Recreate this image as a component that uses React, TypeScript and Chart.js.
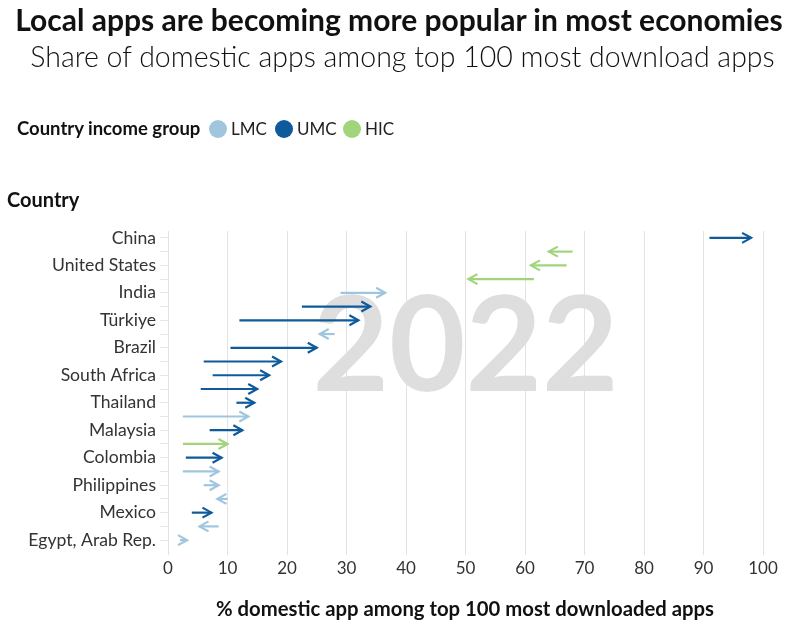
import React, { useEffect, useRef } from "react";
import { Chart, registerables } from "chart.js";

Chart.register(...registerables);

// ---- data ----
const countries = [
  "China", "", "United States", "", "India", "", "Türkiye", "", "Brazil", "",
  "South Africa", "", "Thailand", "", "Malaysia", "", "Colombia", "", "Philippines", "",
  "Mexico", "", "Egypt, Arab Rep.",
];
const startValues = [91, 68, 67, 61.5, 29, 22.5, 12, 28, 10.5, 6, 7.5, 5.5, 11.5, 2.5, 7, 2.5, 3, 2.5, 6, 10, 4, 8.5, 2];
const endValues = [98, 64, 61, 50.5, 36.5, 34, 32, 25.5, 25, 19, 17, 15, 14.5, 13.5, 12.5, 10, 9, 8.5, 8.5, 8.3, 7.3, 5.3, 3.2];
const incomeGroups = [
  "UMC", "HIC", "HIC", "HIC", "LMC", "UMC", "UMC", "LMC", "UMC", "UMC",
  "UMC", "UMC", "UMC", "LMC", "UMC", "HIC", "UMC", "LMC", "LMC", "LMC",
  "UMC", "LMC", "LMC",
];
const groupNames = ["LMC", "UMC", "HIC"];
const groupColors = ["#9fc6de", "#0e5a9a", "#a2d47c"];
const xMin = 0;
const xMax = 100;
const xStep = 10;
const watermarkYear = "2022";

const titleText = "Local apps are becoming more popular in most economies";
const subtitleText = "Share of domestic apps among top 100 most download apps";
const legendTitle = "Country income group";
const yAxisTitle = "Country";
const xAxisTitle = "% domestic app among top 100 most downloaded apps";

const FONT = "Lato, 'Noto Sans', sans-serif";

function colorOf(g: string) {
  return groupColors[groupNames.indexOf(g)];
}

const arrowPlugin = {
  id: "arrows",
  beforeDatasetsDraw(chart: any) {
    const { ctx, chartArea } = chart;
    ctx.save();
    ctx.fillStyle = "#dedede";
    ctx.font = `bold 132px ${FONT}`;
    ctx.textAlign = "center";
    ctx.textBaseline = "alphabetic";
    ctx.fillText(watermarkYear, (chartArea.left + chartArea.right) / 2, chartArea.top + 160);
    ctx.restore();
  },
  afterDatasetsDraw(chart: any) {
    const { ctx } = chart;
    const xs = chart.scales.x;
    const ys = chart.scales.y;
    ctx.save();
    for (let i = 0; i < countries.length; i++) {
      const s = startValues[i];
      const e = endValues[i];
      const x1 = xs.getPixelForValue(s);
      const x2 = xs.getPixelForValue(e);
      const y = ys.getPixelForValue(i);
      const dir = e >= s ? 1 : -1;
      ctx.strokeStyle = colorOf(incomeGroups[i]);
      ctx.lineWidth = 2.2;
      ctx.lineCap = "butt";
      ctx.lineJoin = "miter";
      ctx.beginPath();
      ctx.moveTo(x1, y);
      ctx.lineTo(x2, y);
      ctx.stroke();
      ctx.beginPath();
      ctx.moveTo(x2 - dir * 9, y - 5);
      ctx.lineTo(x2, y);
      ctx.lineTo(x2 - dir * 9, y + 5);
      ctx.stroke();
    }
    ctx.restore();
  },
};

export default function App() {
  const ref = useRef<HTMLCanvasElement>(null);

  useEffect(() => {
    if (!ref.current) return;
    const chart = new Chart(ref.current, {
      type: "bar",
      data: {
        labels: countries,
        datasets: [
          {
            data: startValues.map((s, i) => [s, endValues[i]]) as any,
            backgroundColor: "rgba(0,0,0,0)",
            borderWidth: 0,
          },
        ],
      },
      plugins: [arrowPlugin],
      options: {
        indexAxis: "y",
        animation: false,
        responsive: false,
        maintainAspectRatio: false,
        layout: { padding: { top: 231, right: 37, bottom: 0, left: 0 } },
        plugins: {
          legend: { display: false },
          tooltip: { enabled: false },
          title: { display: false },
        },
        scales: {
          x: {
            type: "linear",
            min: xMin,
            max: xMax,
            ticks: {
              stepSize: xStep,
              color: "#333",
              font: { family: FONT, size: 17 },
              padding: 3,
            },
            grid: {
              color: "#e3e3e3",
              lineWidth: 1,
              drawTicks: true,
              tickLength: 8,
              tickColor: "#e3e3e3",
            },
            border: { display: false },
            afterFit(scale: any) {
              scale.height = 80;
            },
          },
          y: {
            type: "category",
            offset: true,
            ticks: {
              autoSkip: false,
              color: "#333",
              font: { family: FONT, size: 17.6 },
              padding: 4,
            },
            grid: {
              offset: false,
              drawOnChartArea: false,
              drawTicks: true,
              tickLength: 8,
              tickColor: "#e6e6e6",
            },
            border: { display: false },
            afterFit(scale: any) {
              scale.width = 168;
            },
          },
        },
      },
    });
    return () => chart.destroy();
  }, []);

  const abs = (extra: React.CSSProperties): React.CSSProperties => ({
    position: "absolute",
    fontFamily: FONT,
    whiteSpace: "nowrap",
    lineHeight: 1,
    ...extra,
  });

  const legendX = [209, 275, 343];

  return (
    <div style={{ position: "absolute", left: 0, top: 0, width: 800, height: 627, background: "#fff", overflow: "hidden" }}>
      <canvas ref={ref} width={800} height={627} style={{ position: "absolute", left: 0, top: 0, width: 800, height: 627 }} />
      <div style={abs({ left: 0, top: 4, width: 798, textAlign: "center", fontWeight: 700, fontSize: 30, color: "#111" })}>
        {titleText}
      </div>
      <div style={abs({ left: 0, top: 42, width: 805, textAlign: "center", fontWeight: 300, fontSize: 28.5, color: "#111" })}>
        {subtitleText}
      </div>
      <div style={abs({ left: 17, top: 119, fontWeight: 700, fontSize: 18.5, color: "#111" })}>{legendTitle}</div>
      {groupNames.map((g, i) => (
        <React.Fragment key={g}>
          <div
            style={{
              position: "absolute",
              left: legendX[i],
              top: 120,
              width: 18,
              height: 18,
              borderRadius: 9,
              background: groupColors[i],
            }}
          />
          <div style={abs({ left: legendX[i] + 22, top: 120, fontSize: 17, color: "#222" })}>{g}</div>
        </React.Fragment>
      ))}
      <div style={abs({ left: 7, top: 189, fontWeight: 700, fontSize: 20, color: "#111" })}>{yAxisTitle}</div>
      <div style={abs({ left: 0, top: 598, width: 930, textAlign: "center", fontWeight: 700, fontSize: 20.3, color: "#111" })}>
        {xAxisTitle}
      </div>
    </div>
  );
}
